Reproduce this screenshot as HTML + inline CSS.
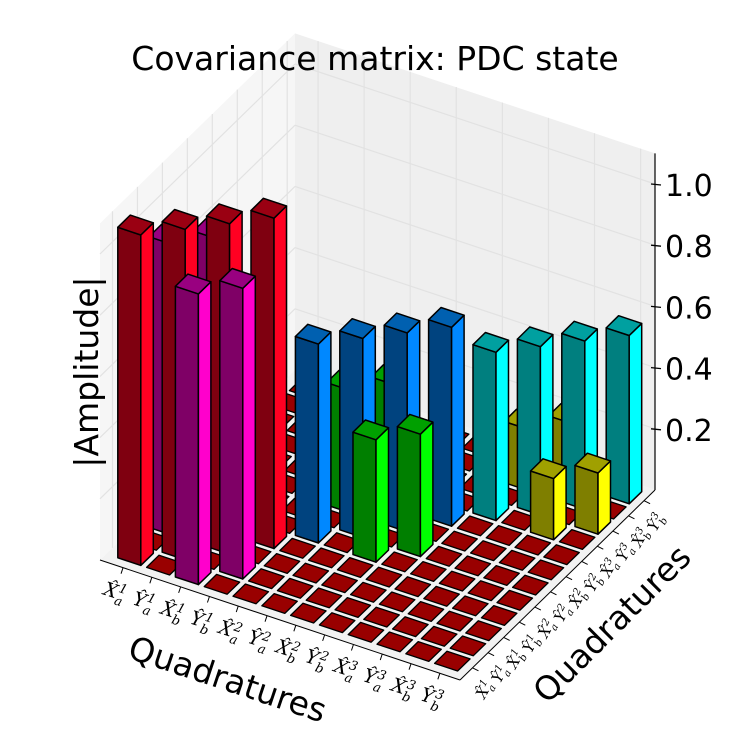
<!DOCTYPE html>
<html><head><meta charset="utf-8">
<style>
html,body{margin:0;padding:0;background:#fff;}
svg{display:block;font-family:"DejaVu Sans","Liberation Sans",sans-serif;}
.tl{font-family:"DejaVu Serif","Liberation Serif",serif;font-style:italic;font-size:19px;}
.ty{font-family:"DejaVu Serif","Liberation Serif",serif;font-style:italic;font-size:15px;}
</style></head>
<body>
<svg id="chart" width="747" height="747" viewBox="0 0 747 747" xmlns="http://www.w3.org/2000/svg">
<rect width="747" height="747" fill="#fff"/>
<g id="panes"></g>
<g id="tiles"></g>
<g id="bars"></g>
<g id="axes"></g>
<text x="375" y="70" text-anchor="middle" font-size="33">Covariance matrix: PDC state</text>
<text transform="translate(98,372) rotate(-90)" text-anchor="middle" font-size="33">|Amplitude|</text>
<text transform="translate(224,690) rotate(18.5)" text-anchor="middle" font-size="33">Quadratures</text>
<text transform="translate(620,632) rotate(-45)" text-anchor="middle" font-size="33">Quadratures</text>
</svg>
<script>
const labels = [["X","a","1"],["Y","a","1"],["X","b","1"],["Y","b","1"],["X","a","2"],["Y","a","2"],["X","b","2"],["Y","b","2"],["X","a","3"],["Y","a","3"],["X","b","3"],["Y","b","3"]];
const diagValues = [1.08,1.08,1.08,1.08,0.65,0.65,0.65,0.65,0.55,0.55,0.55,0.55];
const offPairs = [[0,2],[1,3],[2,0],[3,1],[4,6],[5,7],[6,4],[7,5],[8,10],[9,11],[10,8],[11,9]];
const offValues = [0.95,0.95,0.95,0.95,0.4,0.4,0.4,0.4,0.2,0.2,0.2,0.2];
const zTicks = [0.2,0.4,0.6,0.8,1.0];

const NS = "http://www.w3.org/2000/svg";
const L = [100,560], EX = [28.8,9.6], EY = [15.6,-15.2], S = 306;
function P(x,y,z){return [L[0]+(x+0.5)*EX[0]+(y+0.5)*EY[0], L[1]+(x+0.5)*EX[1]+(y+0.5)*EY[1]-z*S];}
function pts(a){return a.map(p=>p[0].toFixed(1)+","+p[1].toFixed(1)).join(" ");}
function poly(g,arr,fill,stroke,sw){const e=document.createElementNS(NS,"polygon");e.setAttribute("points",pts(arr));e.setAttribute("fill",fill);if(stroke){e.setAttribute("stroke",stroke);e.setAttribute("stroke-width",sw);e.setAttribute("stroke-linejoin","round");}g.appendChild(e);return e;}
function line(g,a,b,c,w){const e=document.createElementNS(NS,"line");e.setAttribute("x1",a[0]);e.setAttribute("y1",a[1]);e.setAttribute("x2",b[0]);e.setAttribute("y2",b[1]);e.setAttribute("stroke",c);e.setAttribute("stroke-width",w);g.appendChild(e);return e;}

const X0=-0.5,X1=12,Y0=-0.5,Y1=12,ZT=1.1;
const panes=document.getElementById("panes");
let p1=poly(panes,[P(X0,Y0,0),P(X0,Y1,0),P(X0,Y1,ZT),P(X0,Y0,ZT)],"#f6f6f6");


let p2=poly(panes,[P(X0,Y1,0),P(X1,Y1,0),P(X1,Y1,ZT),P(X0,Y1,ZT)],"#efefef");


let p3=poly(panes,[P(X0,Y0,0),P(X1,Y0,0),P(X1,Y1,0),P(X0,Y1,0)],"#f2f2f2");


for(const z of zTicks){
  let a=line(panes,P(X0,Y0,z),P(X0,Y1,z),"#e2e2e2",1.2);
  
  
  let b=line(panes,P(X0,Y1,z),P(X1,Y1,z),"#e2e2e2",1.2);
  
  
}
for(let t=0.3;t<12;t+=1.6){
  let a=line(panes,P(X0,t,0),P(X0,t,ZT),"#e2e2e2",1.2);
  
  
  let b=line(panes,P(t,Y1,0),P(t,Y1,ZT),"#e2e2e2",1.2);
  
  
}

const vals=[];for(let i=0;i<12;i++){vals.push(new Array(12).fill(0));vals[i][i]=diagValues[i];}
offPairs.forEach((p,k)=>{vals[p[0]][p[1]]=offValues[k];});
const palette=[
 {d:"#7f0010",l:"#ff0022",t:"#9a0012"},
 {d:"#7f0066",l:"#ff00cc",t:"#990080"},
 {d:"#00437f",l:"#0088ff",t:"#0060b0"},
 {d:"#007f00",l:"#00ff00",t:"#00a000"},
 {d:"#007f7f",l:"#00ffff",t:"#00a0a0"},
 {d:"#7f7f00",l:"#ffff00",t:"#a0a000"}];
function colorOf(i,j){const bi=Math.floor(i/4);if(i===j)return palette[bi*2];return palette[bi*2+1];}

const tiles=document.getElementById("tiles"), bars=document.getElementById("bars");
const W=0.8, OFF=-0.1;
const cells=[];for(let i=0;i<12;i++)for(let j=0;j<12;j++)cells.push([i,j]);
cells.sort((a,b)=>((a[0]-a[1])-(b[0]-b[1]))||((a[0]+a[1])-(b[0]+b[1])));
for(const [i,j] of cells){
  const v=vals[i][j],x0=i+OFF,x1=x0+W,y0=j+OFF,y1=y0+W;
  if(v<=0){
    let t=poly(tiles,[P(x0,y0,0),P(x1,y0,0),P(x1,y1,0),P(x0,y1,0)],"#990000","#000",1.3);
    
    
    continue;
  }
  const c=colorOf(i,j);
  const g=document.createElementNS(NS,"g");
  
  
  poly(g,[P(x0,y0,0),P(x1,y0,0),P(x1,y0,v),P(x0,y0,v)],c.d,"#000",1.5);
  poly(g,[P(x1,y0,0),P(x1,y1,0),P(x1,y1,v),P(x1,y0,v)],c.l,"#000",1.5);
  poly(g,[P(x0,y0,v),P(x1,y0,v),P(x1,y1,v),P(x0,y1,v)],c.t,"#000",1.5);
  bars.appendChild(g);
}

const axes=document.getElementById("axes");
let ax=line(axes,P(X0,Y0,0),P(X1,Y0,0),"#000",1);


let ay=line(axes,P(X1,Y0,0),P(X1,Y1,0),"#000",1);


let az=line(axes,P(X1,Y1,0),P(X1,Y1,ZT),"#000",1.2);


function mathLabel(x,y,rot,lab,name,cls,ss){
  const t=document.createElementNS(NS,"text");
  t.setAttribute("class",cls);
  t.setAttribute("transform","translate("+x.toFixed(1)+","+y.toFixed(1)+") rotate("+rot+")");
  t.setAttribute("text-anchor","middle");
  
  
  t.innerHTML=lab[0]+"\u0302<tspan font-size='"+ss+"' dy='"+(ss*0.45)+"'>"+lab[1]+"</tspan><tspan font-size='"+ss+"' dy='"+(-ss)+"' dx='"+(-ss*0.55)+"'>"+lab[2]+"</tspan>";
  axes.appendChild(t);
}
for(let i=0;i<12;i++){
  const p=P(i+0.3,Y0,0);
  let tk=line(axes,p,[p[0]-2,p[1]+6],"#000",1);
  
  
  mathLabel(p[0]-10,p[1]+30,18,labels[i],'x-tick-label','tl',13);
}
for(let j=0;j<12;j++){
  const p=P(X1,j+0.3,0);
  let tk=line(axes,p,[p[0]+6,p[1]+3],"#000",1);
  
  
  mathLabel(p[0]+16,p[1]+24,-62,labels[j],'y-tick-label','ty',10);
}
for(const z of zTicks){
  const p=P(X1,Y1,z);
  let tk=line(axes,[p[0]-4,p[1]],[p[0]+6,p[1]+1],"#000",1.3);
  
  
  const t=document.createElementNS(NS,"text");
  t.setAttribute("x",p[0]+10);t.setAttribute("y",p[1]+12);
  t.setAttribute("font-size","30");
  
  
  t.textContent=z.toFixed(1);
  axes.appendChild(t);
}
</script>
</body></html>
